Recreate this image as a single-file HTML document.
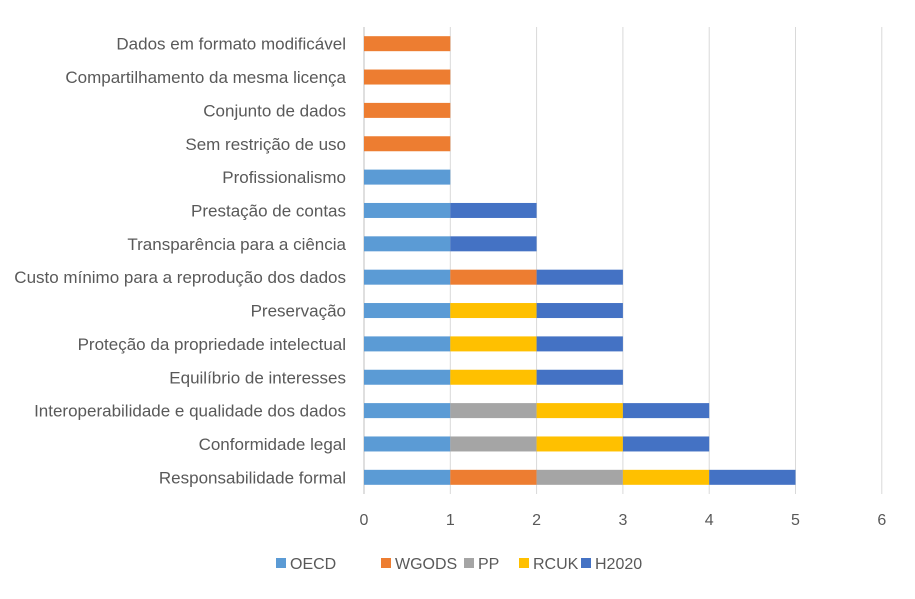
<!DOCTYPE html>
<html><head><meta charset="utf-8"><style>
body{margin:0;background:#fff;}
svg{display:block;font-family:"Liberation Sans",sans-serif;}
</style></head><body>
<svg id="chart" width="915" height="599"></svg>
<script>
const categories=["Dados em formato modificável","Compartilhamento da mesma licença","Conjunto de dados","Sem restrição de uso","Profissionalismo","Prestação de contas","Transparência para a ciência","Custo mínimo para a reprodução dos dados","Preservação","Proteção da propriedade intelectual","Equilíbrio de interesses","Interoperabilidade e qualidade dos dados","Conformidade legal","Responsabilidade formal"];
const seriesNames=["OECD","WGODS","PP","RCUK","H2020"];
const seriesColors=["#5B9BD5","#ED7D31","#A5A5A5","#FFC000","#4472C4"];
const oecd=[0,0,0,0,1,1,1,1,1,1,1,1,1,1];
const wgods=[1,1,1,1,0,0,0,1,0,0,0,0,0,1];
const pp=[0,0,0,0,0,0,0,0,0,0,0,1,1,1];
const rcuk=[0,0,0,0,0,0,0,0,1,1,1,1,1,1];
const h2020=[0,0,0,0,0,1,1,1,1,1,1,1,1,1];
const xTicks=[0,1,2,3,4,5,6];
const series=[oecd,wgods,pp,rcuk,h2020];

const NS="http://www.w3.org/2000/svg";
const svgEl=document.getElementById('chart');
const x0=364,xStep=86.3,plotTop=27,plotBottom=494;
const rowH=(plotBottom-plotTop)/categories.length;
const xs=v=>x0+v*xStep;
const yc=i=>plotTop+rowH*(i+0.5);
function mk(tag,attrs){const e=document.createElementNS(NS,tag);for(const k in attrs)e.setAttribute(k,attrs[k]);svgEl.appendChild(e);return e;}

xTicks.forEach(t=>{
  const g=mk('line',{x1:xs(t),x2:xs(t),y1:plotTop,y2:plotBottom,stroke:t===0?'#bfbfbf':'#d9d9d9','stroke-width':1});
  
  
  const tl=mk('text',{x:xs(t),y:525,'text-anchor':'middle','font-size':16,fill:'#595959'});
  tl.textContent=t;
  
  
});

categories.forEach((c,i)=>{
  const t=mk('text',{x:346,y:yc(i)+6,'text-anchor':'end','font-size':17,fill:'#595959'});
  t.textContent=c;
  
  
  let acc=0;
  series.forEach((s,si)=>{
    if(s[i]>0){
      const r=mk('rect',{x:xs(acc),y:yc(i)-7.5,width:xs(acc+s[i])-xs(acc),height:15,fill:seriesColors[si]});
      
      
    }
    acc+=s[i];
  });
});

const legX=[276,381,464,519,581];
seriesNames.forEach((n,si)=>{
  const r=mk('rect',{x:legX[si],y:558,width:10,height:10,fill:seriesColors[si]});
  
  
  const t=mk('text',{x:legX[si]+14,y:569,'font-size':16,fill:'#595959'});
  t.textContent=n;
  
  
});
</script>
</body></html>
